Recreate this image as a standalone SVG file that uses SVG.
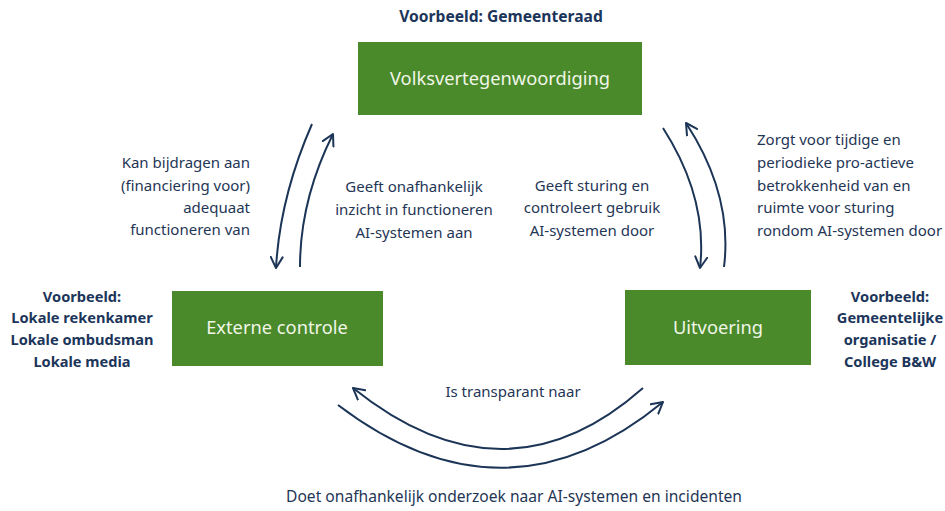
<svg xmlns="http://www.w3.org/2000/svg" width="945" height="511" viewBox="0 0 945 511">
<defs>
<style>
.box{fill:#4a8a2a}
.bl{font-family:"Noto Sans","Open Sans",sans-serif;font-size:18.3px;fill:#f0f6e8;text-anchor:middle}
.t{font-family:"Noto Sans","Open Sans",sans-serif;font-size:15px;fill:#1f3656}
.b{font-family:"Noto Sans","Open Sans",sans-serif;font-size:14.6px;font-weight:bold;fill:#1c355a;text-anchor:middle}
.c{text-anchor:middle}
.e{text-anchor:end}
.arr{fill:none;stroke:#1c3557;stroke-width:2;marker-end:url(#ah)}
</style>
<marker id="ah" viewBox="0 0 14 14" refX="12" refY="7" markerWidth="14" markerHeight="14" markerUnits="userSpaceOnUse" orient="auto">
<path d="M1,1 L12,7 L1,13" fill="none" stroke="#1c3557" stroke-width="2" stroke-linecap="round" stroke-linejoin="round"/>
</marker>
</defs>
<rect width="945" height="511" fill="#ffffff"/>
<g id="connectors">
<path class="arr" d="M312,124 Q280,197 276,268"/>
<path class="arr" d="M300,267 Q300,200 333,134"/>
<path class="arr" d="M663,128 Q708,198 700,268"/>
<path class="arr" d="M724,267 Q733,195 686,123"/>
<path class="arr" d="M643,388 Q505,510 353,388"/>
<path class="arr" d="M338,405 Q505,532 663,402"/>
</g>
<g id="volksvertegenwoordiging">
<text class="b" x="501" y="22" style="font-size:15.6px">Voorbeeld: Gemeenteraad</text>
<rect class="box" x="358" y="42" width="284" height="73"/>
<text class="bl" x="500" y="85">Volksvertegenwoordiging</text>
</g>
<g id="externe-controle">
<rect class="box" x="172" y="291" width="211" height="75"/>
<text class="bl" x="277" y="334">Externe controle</text>
<text class="b" x="82" y="302">Voorbeeld:</text>
<text class="b" x="82" y="323">Lokale rekenkamer</text>
<text class="b" x="82" y="345">Lokale ombudsman</text>
<text class="b" x="82" y="367">Lokale media</text>
</g>
<g id="uitvoering">
<rect class="box" x="625" y="290" width="186" height="75"/>
<text class="bl" x="718" y="334">Uitvoering</text>
<text class="b" x="890" y="302">Voorbeeld:</text>
<text class="b" x="890" y="323">Gemeentelijke</text>
<text class="b" x="890" y="345">organisatie /</text>
<text class="b" x="890" y="367">College B&amp;W</text>
</g>
<g id="labels">
<text class="t e" x="250" y="168">Kan bijdragen aan</text>
<text class="t e" x="250" y="191">(financiering voor)</text>
<text class="t e" x="250" y="213">adequaat</text>
<text class="t e" x="250" y="235">functioneren van</text>
<text class="t c" x="414" y="192">Geeft onafhankelijk</text>
<text class="t c" x="414" y="215">inzicht in functioneren</text>
<text class="t c" x="414" y="238">AI-systemen aan</text>
<text class="t c" x="592" y="191">Geeft sturing en</text>
<text class="t c" x="592" y="213">controleert gebruik</text>
<text class="t c" x="592" y="236">AI-systemen door</text>
<text class="t" x="757" y="145">Zorgt voor tijdige en</text>
<text class="t" x="757" y="168">periodieke pro-actieve</text>
<text class="t" x="757" y="191">betrokkenheid van en</text>
<text class="t" x="757" y="213">ruimte voor sturing</text>
<text class="t" x="757" y="236">rondom AI-systemen door</text>
<text class="t c" x="513" y="397">Is transparant naar</text>
<text class="t c" x="514" y="502" style="font-size:15.6px">Doet onafhankelijk onderzoek naar AI-systemen en incidenten</text>
</g>
</svg>
